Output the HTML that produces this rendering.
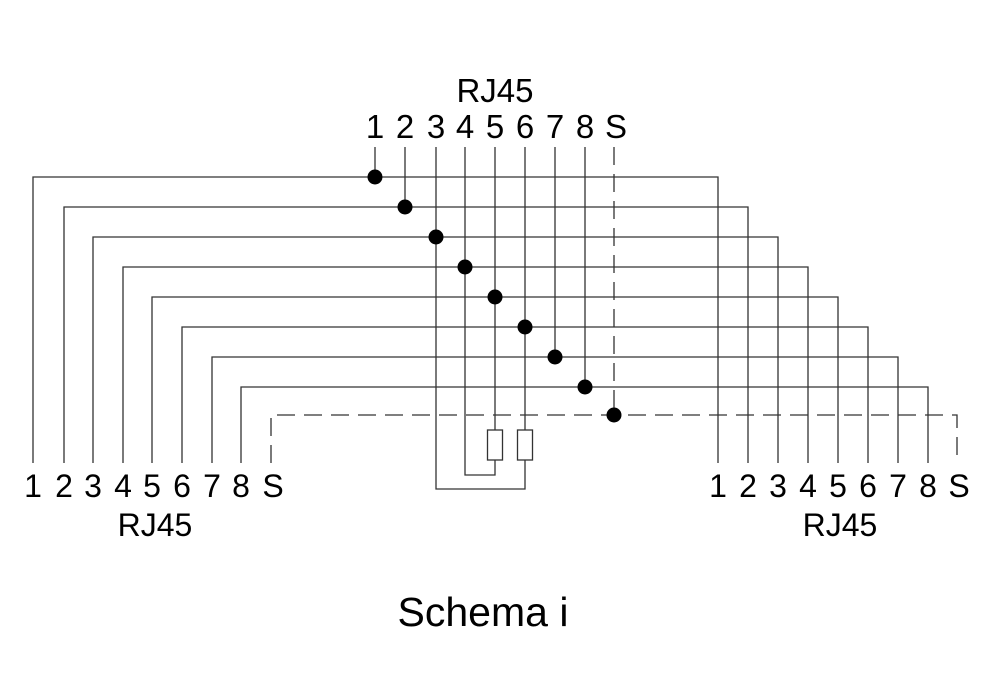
<!DOCTYPE html>
<html><head><meta charset="utf-8"><style>
html,body{margin:0;padding:0;background:#fff;}
svg{display:block;}
text{font-family:"Liberation Sans",Arial,sans-serif;fill:#000;}
</style></head><body>
<svg width="991" height="700" viewBox="0 0 991 700" xmlns="http://www.w3.org/2000/svg">
<g stroke="#333" stroke-width="1.3" fill="none">
<path d="M33 463 V177 H718 V463"/>
<path d="M64 463 V207 H748 V463"/>
<path d="M93 463 V237 H778 V463"/>
<path d="M123 463 V267 H808 V463"/>
<path d="M152 463 V297 H838 V463"/>
<path d="M182 463 V327 H868 V463"/>
<path d="M212 463 V357 H898 V463"/>
<path d="M241 463 V387 H928 V463"/>
<path d="M271 463 V415 H957 V463" stroke-dasharray="18,9"/>
<path d="M375 147 V177"/>
<path d="M405 147 V207"/>
<path d="M436 147 V489 H525 V460"/>
<path d="M465 147 V475 H495 V460"/>
<path d="M495 147 V430"/>
<path d="M525 147 V430"/>
<path d="M555 147 V357"/>
<path d="M585 147 V387"/>
<path d="M614 147 V415" stroke-dasharray="18,9"/>
<rect x="487.5" y="430" width="15" height="30"/>
<rect x="517.5" y="430" width="15" height="30"/>
</g>
<g fill="#000">
<circle cx="375" cy="177" r="7.5"/>
<circle cx="405" cy="207" r="7.5"/>
<circle cx="436" cy="237" r="7.5"/>
<circle cx="465" cy="267" r="7.5"/>
<circle cx="495" cy="297" r="7.5"/>
<circle cx="525" cy="327" r="7.5"/>
<circle cx="555" cy="357" r="7.5"/>
<circle cx="585" cy="387" r="7.5"/>
<circle cx="614" cy="415" r="7.5"/>
</g>
<g font-size="33" text-anchor="middle">
<text x="495" y="102">RJ45</text>
<text x="375" y="138">1</text><text x="405" y="138">2</text><text x="436" y="138">3</text><text x="465" y="138">4</text><text x="495" y="138">5</text><text x="525" y="138">6</text><text x="555" y="138">7</text><text x="585" y="138">8</text><text x="616" y="138">S</text>
</g>
<g font-size="32" text-anchor="middle">
<text x="33" y="497">1</text><text x="64" y="497">2</text><text x="93" y="497">3</text><text x="123" y="497">4</text><text x="152" y="497">5</text><text x="182" y="497">6</text><text x="212" y="497">7</text><text x="241" y="497">8</text><text x="273" y="497">S</text>
<text x="155" y="536">RJ45</text>
<text x="718" y="497">1</text><text x="748" y="497">2</text><text x="778" y="497">3</text><text x="808" y="497">4</text><text x="838" y="497">5</text><text x="868" y="497">6</text><text x="898" y="497">7</text><text x="928" y="497">8</text><text x="959" y="497">S</text>
<text x="840" y="536">RJ45</text>
</g>
<text x="483" y="626" font-size="41" text-anchor="middle">Schema i</text>
</svg>
</body></html>
